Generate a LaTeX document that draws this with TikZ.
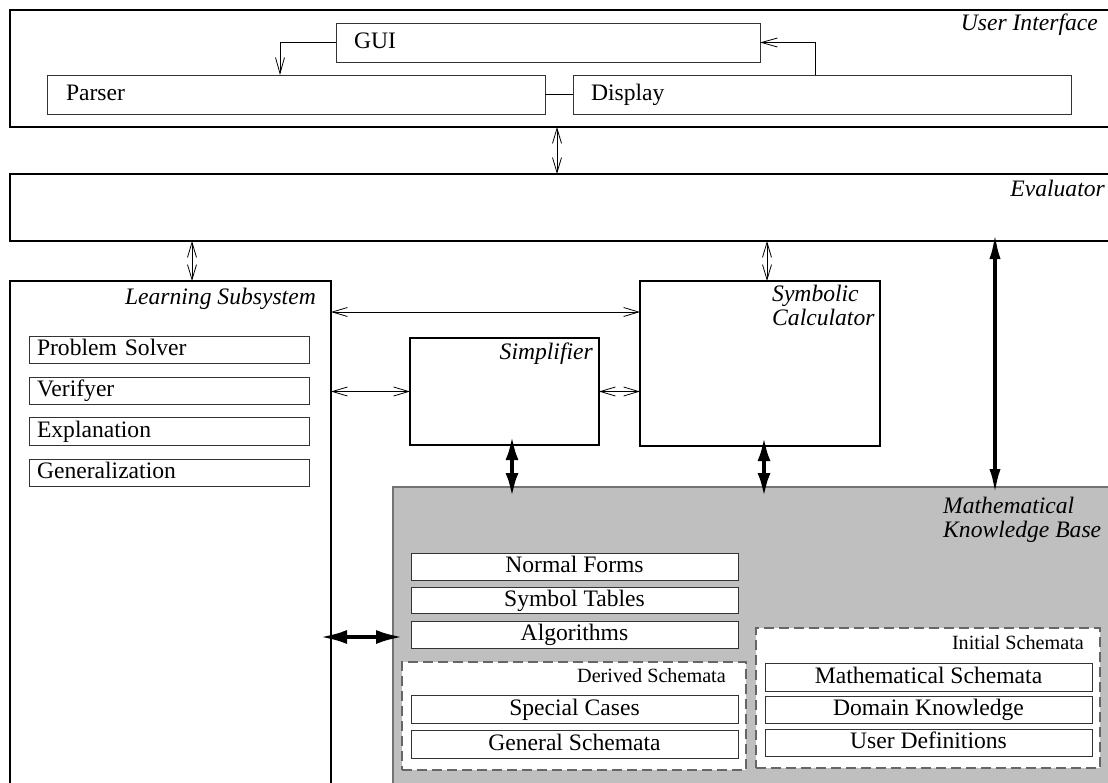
\documentclass[tikz,border=0pt]{standalone}
\usepackage{fontspec}
\setmainfont{Liberation Serif}
\usetikzlibrary{arrows.meta,calc}
\begin{document}
\begin{tikzpicture}[x=1pt,y=-1pt,
  bigbox/.style={draw=black,line width=1.5pt,outer sep=0pt,inner sep=0pt,anchor=north west,fill=white},
  smallbox/.style={draw=black!80,line width=1pt,outer sep=0pt,inner sep=0pt,anchor=north west,fill=white,
    font=\fontsize{23.6}{26}\selectfont,text height=17pt,text depth=5pt},
  kbbox/.style={draw=black!55,line width=2pt,fill=black!25,outer sep=0pt,inner sep=0pt,anchor=north west},
  dashbox/.style={draw=black!60,line width=1.3pt,dash pattern=on 10pt off 5pt,fill=white,outer sep=0pt,inner sep=0pt,anchor=north west},
  lbl/.style={inner sep=0pt,font=\fontsize{23.6}{26}\selectfont\itshape},
  slbl/.style={inner sep=0pt,font=\fontsize{20.2}{22}\selectfont},
  thinarr/.style={line width=0.8pt,arrows={Straight Barb[length=15pt,width=9pt]-Straight Barb[length=15pt,width=9pt]}},
  onearr/.style={line width=0.8pt,arrows={-Straight Barb[length=16pt,width=9pt]}},
  thickarr/.style={line width=4pt,arrows={Latex[length=24pt,width=13pt]-Latex[length=24pt,width=13pt]}}
]
\clip (0,0) rectangle (1108,782);
\fill[white] (0,0) rectangle (1108,782);

% User interface
\node[bigbox,minimum width=1110pt,minimum height=117pt] (ui) at (10,10) {};
\node[lbl,anchor=base east] (uil) at (1098,30) {User Interface};
\node[smallbox,minimum width=424pt,minimum height=39pt,inner xsep=18pt,text width=388pt,align=left] (gui) at (336,23) {GUI};
\node[smallbox,minimum width=498pt,minimum height=39pt,inner xsep=19pt,text width=460pt,align=left] (parser) at (47,75) {Parser};
\node[smallbox,minimum width=498pt,minimum height=39pt,inner xsep=18pt,text width=462pt,align=left] (display) at (573,75) {Display};
\draw[line width=0.8pt] (parser.east) -- (display.west);
\draw[onearr] (gui.west) -| ([xshift=-16pt]parser.north);
\draw[onearr] ([xshift=-7pt]display.north) |- (gui.east);

% Evaluator
\node[bigbox,minimum width=1110pt,minimum height=67pt] (eval) at (10,174) {};
\node[lbl,anchor=base east] (evall) at (1105,196) {Evaluator};

% Learning subsystem
\node[bigbox,minimum width=321pt,minimum height=530pt] (learn) at (10,281) {};
\node[lbl,anchor=base east] (learnl) at (316,304) {Learning Subsystem};
\node[smallbox,minimum width=280pt,minimum height=27pt,inner xsep=8pt,text width=264pt,align=left] (ps) at (29,336) {Problem Solver};
\node[smallbox,minimum width=280pt,minimum height=27pt,inner xsep=8pt,text width=264pt,align=left] (ver) at (29,377) {Verifyer};
\node[smallbox,minimum width=280pt,minimum height=28pt,inner xsep=8pt,text width=264pt,align=left] (expl) at (29,417) {Explanation};
\node[smallbox,minimum width=280pt,minimum height=27pt,inner xsep=8pt,text width=264pt,align=left] (gen) at (29,459) {Generalization};

% Simplifier and symbolic calculator
\node[bigbox,minimum width=189pt,minimum height=107pt] (simp) at (410,338) {};
\node[lbl,anchor=base east] (simpl) at (593,359) {Simplifier};
\node[bigbox,minimum width=240pt,minimum height=165pt] (symb) at (640,281) {};
\node[lbl,anchor=base west] (symbl1) at (772,301) {Symbolic};
\node[lbl,anchor=base west] (symbl2) at (772,325) {Calculator};

% Knowledge base
\node[kbbox,minimum width=730pt,minimum height=320pt] (kb) at (393,487) {};
\node[lbl,anchor=base west] (kbl1) at (943,513) {Mathematical};
\node[lbl,anchor=base west] (kbl2) at (943,537) {Knowledge Base};
\node[smallbox,minimum width=327pt,minimum height=27pt] (nf) at (411,553) {Normal Forms};
\node[smallbox,minimum width=327pt,minimum height=26pt] (st) at (411,587) {Symbol Tables};
\node[smallbox,minimum width=327pt,minimum height=27pt] (alg) at (411,621) {Algorithms};

\node[dashbox,minimum width=344pt,minimum height=108pt] (derived) at (402,662) {};
\node[slbl,anchor=base east] (derivedl) at (726,682) {Derived Schemata};
\node[smallbox,minimum width=327pt,minimum height=28pt] (sc) at (411,695) {Special Cases};
\node[smallbox,minimum width=327pt,minimum height=28pt] (gs) at (411,730) {General Schemata};

\node[dashbox,minimum width=344pt,minimum height=140pt] (initial) at (756,628) {};
\node[slbl,anchor=base east] (initiall) at (1084,649) {Initial Schemata};
\node[smallbox,minimum width=327pt,minimum height=28pt] (ms) at (765,663) {Mathematical Schemata};
\node[smallbox,minimum width=327pt,minimum height=27pt] (dk) at (765,696) {Domain Knowledge};
\node[smallbox,minimum width=327pt,minimum height=27pt] (ud) at (765,729) {User Definitions};

% connectors
\coordinate (xa) at (557,0);
\coordinate (xb) at (192,0);
\coordinate (xc) at (767,0);
\coordinate (xd) at (512,0);
\coordinate (xe) at (764,0);
\coordinate (xf) at (995,0);
\coordinate (ya) at (0,312);
\coordinate (yb) at (0,637);
\draw[thinarr] (xa |- ui.south) -- (xa |- eval.north);
\draw[thinarr] (xb |- eval.south) -- (xb |- learn.north);
\draw[thinarr] (xc |- eval.south) -- (xc |- symb.north);
\draw[thinarr] (learn.east |- ya) -- (symb.west |- ya);
\draw[thinarr] (learn.east |- simp.west) -- (simp.west);
\draw[thinarr] (simp.east) -- (symb.west |- simp.east);
\draw[thickarr,shorten <=-9pt,shorten >=-10pt] (xd |- simp.south) -- (xd |- kb.north);
\draw[thickarr,shorten <=-9pt,shorten >=-10pt] (xe |- symb.south) -- (xe |- kb.north);
\draw[thickarr,shorten <=-9pt,shorten >=-8pt,arrows={Latex[length=27pt,width=11pt]-Latex[length=26pt,width=11pt]}] (xf |- eval.south) -- (xf |- kb.north);
\draw[thickarr,shorten <=-11pt,shorten >=-10pt,arrows={Latex[length=27pt,width=14pt]-Latex[length=27pt,width=14pt]}] (learn.east |- yb) -- (kb.west |- yb);
\end{tikzpicture}
\end{document}
